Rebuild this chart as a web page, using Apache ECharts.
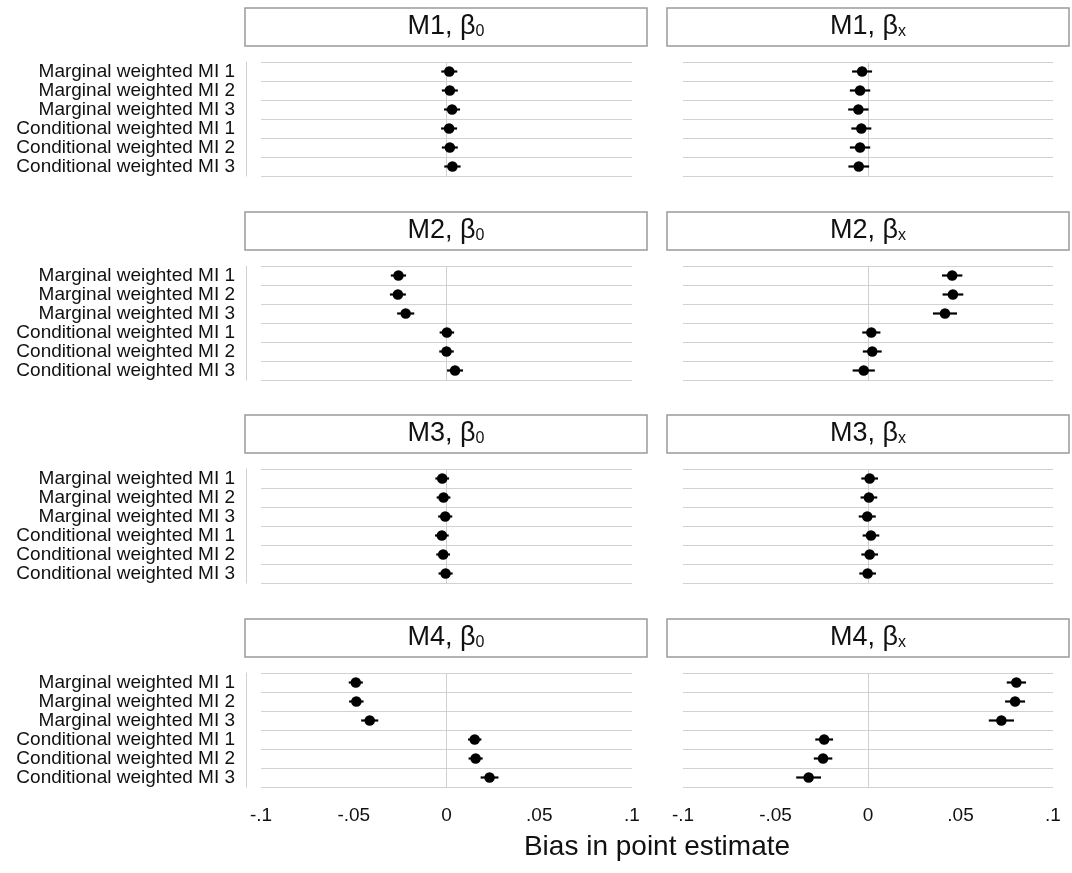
<!DOCTYPE html>
<html>
<head>
<meta charset="utf-8">
<script src="https://cdn.jsdelivr.net/npm/echarts@6/dist/echarts.min.js"></script>
<style>
  body { margin: 0; background: #fff; }
  #chart { width: 1072px; height: 873px; }
</style>
</head>
<body>
<div id="chart"></div>
<script>
// row labels (top to bottom)
const methods = [
  "Marginal weighted MI 1",
  "Marginal weighted MI 2",
  "Marginal weighted MI 3",
  "Conditional weighted MI 1",
  "Conditional weighted MI 2",
  "Conditional weighted MI 3",
];
const models = ["M1", "M2", "M3", "M4"];
const params = ["0", "x"];

const xTickValues = [-0.1, -0.05, 0, 0.05, 0.1];
const xTickLabels = ["-.1", "-.05", "0", ".05", ".1"];

// point estimates and half width of the interval, per panel
const m1b0Est = [0.0015, 0.0018, 0.003, 0.0014, 0.0018, 0.0032];
const m1b0Ci = [0.0043, 0.0043, 0.0043, 0.0043, 0.0043, 0.0044];
const m1bxEst = [-0.0032, -0.0043, -0.0052, -0.0036, -0.0043, -0.005];
const m1bxCi = [0.0054, 0.0055, 0.0055, 0.0054, 0.0055, 0.0056];

const m2b0Est = [-0.0259, -0.0262, -0.022, 0.0002, 0.0, 0.0046];
const m2b0Ci = [0.0041, 0.0043, 0.0046, 0.0039, 0.0039, 0.0043];
const m2bxEst = [0.0455, 0.0459, 0.0416, 0.0018, 0.0023, -0.0023];
const m2bxCi = [0.0055, 0.0056, 0.0065, 0.0049, 0.0051, 0.006];

const m3b0Est = [-0.0023, -0.0016, -0.0007, -0.0025, -0.0018, -0.0005];
const m3b0Ci = [0.0037, 0.0037, 0.0038, 0.0037, 0.0037, 0.0038];
const m3bxEst = [0.0009, 0.0005, -0.0004, 0.0016, 0.0009, -0.0002];
const m3bxCi = [0.0045, 0.0045, 0.0046, 0.0045, 0.0045, 0.0045];

const m4b0Est = [-0.0489, -0.0486, -0.0414, 0.0152, 0.0157, 0.0232];
const m4b0Ci = [0.0038, 0.0039, 0.0046, 0.0036, 0.0038, 0.0048];
const m4bxEst = [0.0802, 0.0795, 0.0721, -0.0237, -0.0243, -0.0321];
const m4bxCi = [0.0052, 0.0054, 0.0068, 0.0048, 0.005, 0.0067];

const panels = [
  [m1b0Est, m1b0Ci], [m1bxEst, m1bxCi],
  [m2b0Est, m2b0Ci], [m2bxEst, m2bxCi],
  [m3b0Est, m3b0Ci], [m3bxEst, m3bxCi],
  [m4b0Est, m4b0Ci], [m4bxEst, m4bxCi],
];

const font = "'Liberation Sans', Arial, sans-serif";
const gridTops = [62, 266, 469, 673];
const gridH = 114;
const colLeft = [261, 683];
const colWidth = [371, 370];
const stripLeft = [245, 667];
const stripWidth = 402;

const option = {
  animation: false,
  backgroundColor: "#fff",
  grid: [],
  xAxis: [],
  yAxis: [],
  series: [],
  graphic: [],
};

panels.forEach(function (p, i) {
  const row = Math.floor(i / 2);
  const col = i % 2;
  const est = p[0];
  const ci = p[1];

  option.grid.push({
    left: colLeft[col],
    top: gridTops[row],
    width: colWidth[col],
    height: gridH,
    outerBoundsMode: "none",
  });

  option.xAxis.push({
    type: "value",
    gridIndex: i,
    min: -0.1,
    max: 0.1,
    interval: 0.05,
    axisLine: { show: false },
    axisTick: { show: false },
    splitLine: { show: false },
    axisLabel: {
      show: row === 3,
      margin: 19,
      fontSize: 19,
      fontFamily: font,
      color: "#111",
      formatter: function (v) {
        const k = xTickValues.findIndex((t) => Math.abs(t - v) < 1e-9);
        return k >= 0 ? xTickLabels[k] : "";
      },
    },
  });

  option.yAxis.push({
    type: "category",
    gridIndex: i,
    data: methods,
    inverse: true,
    offset: col === 0 ? 15 : 0,
    axisLine: {
      show: col === 0,
      onZero: false,
      lineStyle: { color: "#cfcfcf", width: 1 },
    },
    axisTick: { show: false },
    axisLabel: {
      show: col === 0,
      interval: 0,
      margin: 11,
      fontSize: 19,
      fontFamily: font,
      color: "#111",
    },
    splitLine: {
      show: true,
      interval: 0,
      lineStyle: { color: "#d2d2d2", width: 1 },
    },
  });

  // confidence interval whiskers
  option.series.push({
    type: "custom",
    xAxisIndex: i,
    yAxisIndex: i,
    encode: { x: [0, 1], y: 2 },
    data: est.map((v, k) => [v - ci[k], v + ci[k], k]),
    renderItem: function (params, api) {
      const a = api.coord([api.value(0), api.value(2)]);
      const b = api.coord([api.value(1), api.value(2)]);
      return {
        type: "line",
        shape: { x1: a[0], y1: a[1], x2: b[0], y2: b[1] },
        style: { stroke: "#000", lineWidth: 2.2 },
      };
    },
    z: 3,
  });

  // point estimates
  option.series.push({
    type: "scatter",
    xAxisIndex: i,
    yAxisIndex: i,
    symbol: "circle",
    symbolSize: 10.5,
    itemStyle: { color: "#000", opacity: 1 },
    data: est.map((v, k) => [v, k]),
    z: 4,
    markLine: {
      silent: true,
      symbol: ["none", "none"],
      label: { show: false },
      lineStyle: { color: "#cfcfcf", type: "solid", width: 1 },
      data: [{ xAxis: 0 }],
      z: 1,
    },
  });

  // facet strip
  option.graphic.push({
    type: "rect",
    shape: { x: stripLeft[col], y: gridTops[row] - 54, width: stripWidth, height: 38 },
    style: { fill: "#fff", stroke: "#9a9a9a", lineWidth: 1.5 },
  });
  option.graphic.push({
    type: "text",
    x: stripLeft[col] + stripWidth / 2,
    y: gridTops[row] - 35,
    style: {
      text: "{a|" + models[row] + ", β}{s|" + params[col] + "}",
      align: "center",
      verticalAlign: "middle",
      textAlign: "center",
      textVerticalAlign: "middle",
      rich: {
        a: { fontSize: 27, fontFamily: font, fill: "#111", color: "#111" },
        s: { fontSize: 16, fontFamily: font, fill: "#111", color: "#111", padding: [10, 0, 0, 0] },
      },
    },
  });
});

option.graphic.push({
  type: "text",
  x: 657,
  y: 847,
  style: {
    text: "Bias in point estimate",
    align: "center",
    verticalAlign: "middle",
    textAlign: "center",
    textVerticalAlign: "middle",
    font: "28px " + font,
    fill: "#111",
  },
});

const myChart = echarts.init(document.getElementById("chart"));
myChart.setOption(option);
</script>
</body>
</html>
